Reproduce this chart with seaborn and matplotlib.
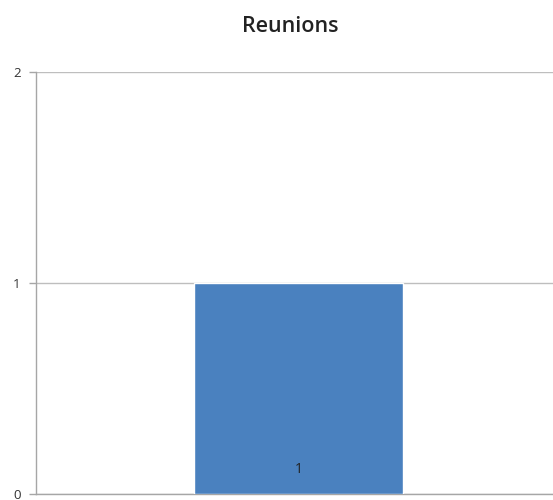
import matplotlib
matplotlib.use("Agg")
import matplotlib.pyplot as plt
import pandas as pd
import seaborn as sns

# data
categories = ["Reunions"]
values = [1]
y_ticks = [0, 1, 2]

df = pd.DataFrame({"categorie": categories, "valeur": values})

sns.set_theme(style="white")
plt.rcParams["font.family"] = ["Open Sans", "DejaVu Sans"]

fig = plt.figure(figsize=(5.53, 5.0), dpi=100)
ax = fig.add_axes([36 / 553, 6 / 500, 517 / 553, 422 / 500])

sns.barplot(data=df, x="categorie", y="valeur", color="#4A81BF", width=0.404,
            saturation=1, ax=ax, zorder=3)

ax.set_xlim(-0.508, 0.492)
ax.set_ylim(0, 2)
ax.set_yticks(y_ticks)
ax.set_yticklabels([str(t) for t in y_ticks], fontsize=9.5, color="#333333")
ax.set_xticks([])
ax.set_xlabel("")
ax.set_ylabel("")
ax.grid(axis="y", color="#BEBEBE", linewidth=1, zorder=0)
ax.tick_params(axis="y", length=5, width=1, color="#A6A6A6", pad=6, left=True)

for s in ["top", "right"]:
    ax.spines[s].set_visible(False)
for s in ["left", "bottom"]:
    ax.spines[s].set_color("#A6A6A6")
    ax.spines[s].set_linewidth(1)

# valeur dans la barre
for p, v in zip(ax.patches, values):
    ax.text(p.get_x() + p.get_width() / 2, 0.115, str(v), ha="center",
            va="center", fontsize=10, color="#222222", zorder=4)

fig.text(290 / 553, 0.946, "Reunions", ha="center", va="center",
         fontsize=15.5, fontweight="semibold", color="#222222")

fig.savefig("out.png", dpi=100)
